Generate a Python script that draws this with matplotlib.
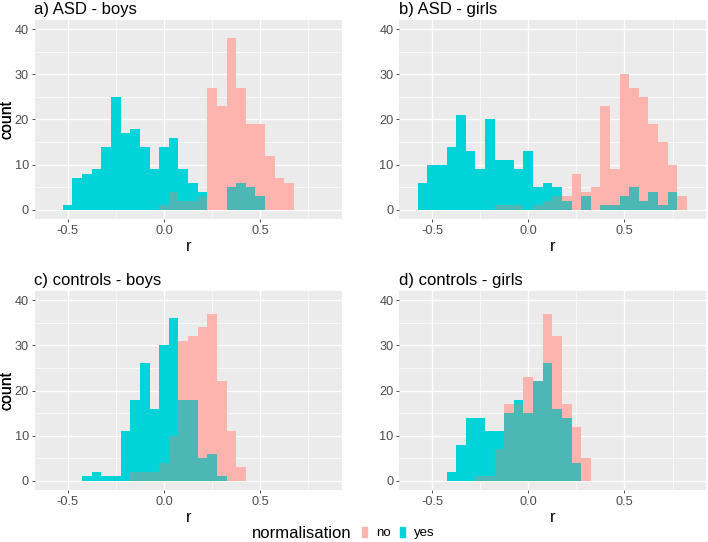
import matplotlib
matplotlib.use('Agg')
from matplotlib import pyplot as plt
from matplotlib.patches import Patch
import numpy as np

plt.rcParams['font.family'] = ['Liberation Sans', 'DejaVu Sans']

# bin centres (width 0.05), shared by all four panels
bins = [-0.55, -0.50, -0.45, -0.40, -0.35, -0.30, -0.25, -0.20, -0.15, -0.10,
        -0.05, 0.00, 0.05, 0.10, 0.15, 0.20, 0.25, 0.30, 0.35, 0.40,
        0.45, 0.50, 0.55, 0.60, 0.65, 0.70, 0.75, 0.80]

# counts, one value per bin
asd_boys_no = [0, 0, 0, 0, 0, 0, 0, 0, 0, 0,
               0, 1, 4, 2, 2, 3, 27, 23, 38, 27,
               19, 19, 12, 7, 6, 0, 0, 0]
asd_boys_yes = [0, 1, 7, 8, 9, 14, 25, 17, 18, 14,
                9, 14, 16, 9, 6, 4, 0, 0, 5, 6,
                5, 3, 0, 0, 0, 0, 0, 0]
asd_girls_no = [0, 0, 0, 0, 0, 0, 0, 0, 1, 1,
                1, 0, 1, 2, 3, 3, 8, 4, 5, 23,
                9, 30, 27, 25, 19, 15, 10, 3]
asd_girls_yes = [6, 10, 10, 14, 21, 13, 9, 20, 11, 11,
                 9, 13, 5, 6, 5, 2, 0, 3, 0, 1,
                 1, 3, 5, 2, 4, 1, 4, 0]
ctrl_boys_no = [0, 0, 0, 0, 0, 0, 0, 0, 2, 2,
                2, 4, 10, 31, 32, 34, 37, 22, 11, 3,
                0, 0, 0, 0, 0, 0, 0, 0]
ctrl_boys_yes = [0, 0, 0, 1, 2, 1, 1, 11, 18, 26,
                 16, 30, 36, 18, 18, 5, 6, 1, 0, 0,
                 0, 0, 0, 0, 0, 0, 0, 0]
ctrl_girls_no = [0, 0, 0, 0, 0, 0, 1, 1, 7, 17,
                 17, 23, 22, 37, 32, 17, 12, 5, 0, 0,
                 0, 0, 0, 0, 0, 0, 0, 0]
ctrl_girls_yes = [0, 0, 0, 2, 8, 14, 14, 11, 11, 15,
                  18, 15, 22, 26, 16, 14, 4, 0, 0, 0,
                  0, 0, 0, 0, 0, 0, 0, 0]

titles = ['a) ASD - boys', 'b) ASD - girls', 'c) controls - boys', 'd) controls - girls']
panels = [(asd_boys_no, asd_boys_yes), (asd_girls_no, asd_girls_yes),
          (ctrl_boys_no, ctrl_boys_yes), (ctrl_girls_no, ctrl_girls_yes)]

PINK = '#FDB3AE'
CYAN = '#00D4D8'
MIX = '#4DB7B6'
BG = '#EBEBEB'

W, H = 708, 542
fig = plt.figure(figsize=(W / 100, H / 100), dpi=100)

# panel boxes in pixels: left, top, right, bottom
boxes = [(34.5, 20, 342, 219), (399, 20, 706, 219),
         (34.5, 291, 342, 490), (399, 291, 706, 490)]

for (l, t, r, b), title, (no, yes) in zip(boxes, titles, panels):
    ax = fig.add_axes([l / W, 1 - b / H, (r - l) / W, (b - t) / H])
    ax.set_facecolor(BG)
    ax.bar(bins, no, width=0.05, color=PINK, linewidth=0)
    ax.bar(bins, yes, width=0.05, color=CYAN, linewidth=0)
    ax.bar(bins, np.minimum(no, yes), width=0.05, color=MIX, linewidth=0)

    ax.set_xlim(-0.672, 0.924)
    ax.set_ylim(-2, 42)
    ax.set_xticks([-0.5, 0.0, 0.5])
    ax.set_xticklabels(['-0.5', '0.0', '0.5'])
    ax.set_xticks([-0.25, 0.25, 0.75], minor=True)
    ax.set_yticks([0, 10, 20, 30, 40])
    ax.set_yticks([5, 15, 25, 35], minor=True)
    ax.set_axisbelow(True)
    ax.grid(which='major', color='white', linewidth=1.0)
    ax.grid(which='minor', color='white', linewidth=0.5)
    for s in ax.spines.values():
        s.set_visible(False)
    ax.tick_params(which='major', length=2.5, width=0.6, color='#333333',
                   labelcolor='#4D4D4D', labelsize=9.2, pad=1.5)
    ax.tick_params(which='minor', length=0)
    ax.set_xlabel('r', fontsize=12, labelpad=2)
    ax.set_ylabel('count', fontsize=11.5)
    ax.yaxis.set_label_coords((14 - l) / (r - l), 0.5)
    ax.set_title(title, loc='left', fontsize=12, pad=4)

fig.text(252 / W, 1 - 533 / H, 'normalisation', fontsize=12, va='center', ha='left')
fig.legend(handles=[Patch(color=PINK), Patch(color=CYAN)], labels=['no', 'yes'],
           ncol=2, loc='center left', bbox_to_anchor=(362 / W, 1 - 533 / H),
           frameon=False, handlelength=0.35, handleheight=0.85, handletextpad=0.7,
           columnspacing=0.75, fontsize=9.5, borderpad=0, borderaxespad=0)

fig.savefig('out.png', dpi=100)
